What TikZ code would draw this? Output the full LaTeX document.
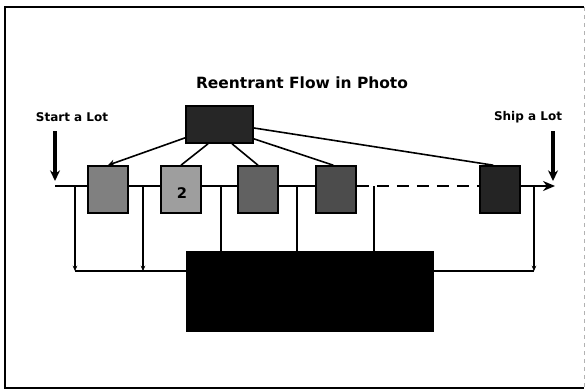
\documentclass[tikz,border=0pt]{standalone}
\usepackage{fontspec}
\setmainfont{DejaVu Sans}
\usetikzlibrary{arrows.meta}
\begin{document}
\begin{tikzpicture}[x=0.75pt,y=-0.75pt,
  conn/.style={line width=1.2pt, black},
  flow/.style={line width=1.8pt, black},
  fb/.style={line width=1pt, black},
  station/.style={draw=black, line width=1.2pt, minimum width=30pt, minimum height=35.25pt, inner sep=0pt},
  lbl/.style={font=\bfseries\fontsize{9}{10}\selectfont, inner sep=0pt},
  bigarrow/.style={line width=2.4pt, -{Stealth[length=8pt,width=7.5pt]}}
]
\useasboundingbox (0,0) rectangle (586,390);
% frame
\draw[line width=1.6pt] (584,7) -- (5,7) -- (5,388) -- (584,388);
\draw[gray!60, line width=0.5pt, dashed] (584,7) -- (584,388);

% title
\node[font=\bfseries\fontsize{11.6}{13}\selectfont, inner sep=0pt] (title) at (302,83) {Reentrant Flow in Photo};

% photo tool (top box)
\node[draw=black, fill=black!85, line width=1.2pt, minimum width=50.25pt, minimum height=27.75pt, inner sep=0pt] (top) at (219.5,124.5) {};

% stations
\node[station, fill=black!50] (b1) at (108,189.5) {};
\node[station, fill=black!38] (b2) at (181,189.5) {};
\node[font=\bfseries\fontsize{11}{12}\selectfont, inner sep=0pt] (n2) at (182,193) {2};
\node[station, fill=black!62] (b3) at (258,189.5) {};
\node[station, fill=black!70] (b4) at (336,189.5) {};
\node[station, fill=black!86] (b5) at (500,189.5) {};

% big box
\node[draw=black, fill=black, minimum width=185.25pt, minimum height=60pt, inner sep=0pt] (big) at (309.5,291) {};

% labels
\node[lbl] (start) at (72,117) {Start a Lot};
\node[lbl] (ship) at (528,117) {Ship a Lot};

% main flow line
\coordinate (m0) at (55,186);
\coordinate (mend) at (555,186);
\draw[flow] (m0) -- (b1.west |- m0);
\draw[flow] (b1.east |- m0) -- (b2.west |- m0);
\draw[flow] (b2.east |- m0) -- (b3.west |- m0);
\draw[flow] (b3.east |- m0) -- (b4.west |- m0);
\draw[flow, dash pattern=on 9pt off 6pt] (b4.east |- m0) -- (b5.west |- m0);
\draw[flow, -{Stealth[length=9pt,width=7.5pt]}] (b5.east |- m0) -- (mend);

% start / ship arrows
\coordinate (sa) at (55,131);
\coordinate (sb) at (55,181);
\draw[bigarrow] (sa) -- (sb);
\coordinate (pa) at (553,131);
\coordinate (pb) at (553,181);
\draw[bigarrow] (pa) -- (pb);

% connectors from photo tool to stations
\draw[conn, -{Stealth[length=5pt,width=5pt]}] ([yshift=4.5pt]top.south west) -- (b1.north);
\draw[conn] ([xshift=-8.6pt]top.south) -- (b2.north);
\draw[conn] ([xshift=9.4pt]top.south) -- (b3.north);
\draw[conn] ([yshift=3.75pt]top.south east) -- ([xshift=-2pt]b4.north);
\draw[conn] ([yshift=-2.6pt]top.east) -- ([xshift=-5pt]b5.north);

% feedback lines
\coordinate (f1) at (75,186);
\coordinate (g1) at (75,271);
\coordinate (f2) at (143,186);
\coordinate (g2) at (143,271);
\coordinate (f6) at (534,186);
\coordinate (g6) at (534,271);
\draw[fb, -{Stealth[length=4pt,width=3.5pt]}] (f1) -- (g1);
\draw[fb, -{Stealth[length=4pt,width=3.5pt]}] (f2) -- (g2);
\draw[fb, -{Stealth[length=4pt,width=3.5pt]}] (f6) -- (g6);
\draw[fb] (g1) -- (big.west |- g1);
\draw[fb] (big.east |- g6) -- (g6);

\coordinate (f3) at (221,186);
\coordinate (f4) at (297,186);
\coordinate (f5) at (374,186);
\draw[fb] (f3) -- (f3 |- big.north);
\draw[fb] (f4) -- (f4 |- big.north);
\draw[fb] (f5) -- (f5 |- big.north);
\end{tikzpicture}
\end{document}
